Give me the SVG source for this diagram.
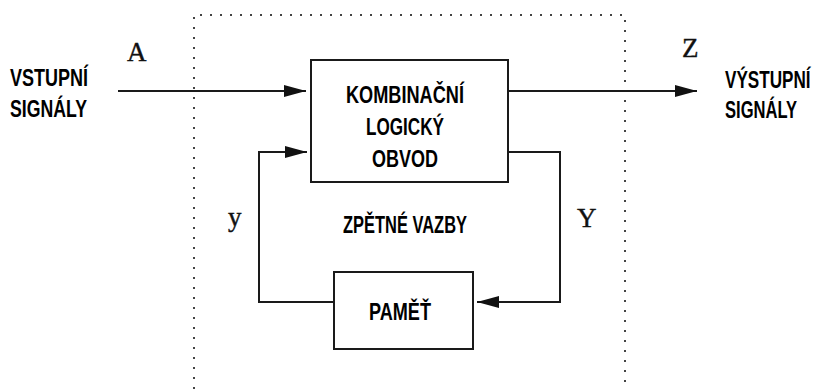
<svg xmlns="http://www.w3.org/2000/svg" width="815" height="389" viewBox="0 0 815 389">
  <style>
    .box { fill: #fff; stroke: #1a1a1a; stroke-width: 2; }
    .wire { fill: none; stroke: #1a1a1a; stroke-width: 2; }
    .frame { fill: none; stroke: #444; stroke-width: 2; stroke-dasharray: 2 8; }
    .lbl { font-family: "Liberation Sans", Arial, sans-serif; font-weight: bold; font-size: 23px; fill: #000; }
    .sym { font-family: "Liberation Serif", "Times New Roman", serif; font-size: 27px; fill: #111; stroke: #111; stroke-width: 0.4; }
  </style>
  <defs>
    <marker id="arrow" markerUnits="userSpaceOnUse" markerWidth="24" markerHeight="14" refX="22" refY="7" orient="auto">
      <path d="M0,1 L22,7 L0,13 Z" fill="#111"/>
    </marker>
  </defs>

  <rect width="815" height="389" fill="#fff"/>

  <!-- dotted system boundary, open at the bottom -->
  <path class="frame" d="M194,389 L194,15 L625,15 L625,389"/>

  <g id="connectors">
    <line class="wire" x1="118" y1="91" x2="306" y2="91" marker-end="url(#arrow)"/>
    <line class="wire" x1="508" y1="91" x2="697" y2="91" marker-end="url(#arrow)"/>
    <polyline class="wire" points="508,152 560,152 560,302 477,302" marker-end="url(#arrow)"/>
    <polyline class="wire" points="334,302 259,302 259,152 307,152" marker-end="url(#arrow)"/>
  </g>

  <g id="input-label">
    <text class="lbl" x="10" y="86" textLength="78" lengthAdjust="spacingAndGlyphs">VSTUPNÍ</text>
    <text class="lbl" x="10" y="117" textLength="77" lengthAdjust="spacingAndGlyphs">SIGNÁLY</text>
  </g>

  <!-- condensed horizontally so the label fits the right margin -->
  <g id="output-label" transform="translate(725,0) scale(0.75,1)">
    <text class="lbl" x="0" y="88" textLength="114" lengthAdjust="spacingAndGlyphs">VÝSTUPNÍ</text>
    <text class="lbl" x="0" y="118" textLength="96" lengthAdjust="spacingAndGlyphs">SIGNÁLY</text>
  </g>

  <g id="combinational">
    <rect class="box" x="311" y="60" width="197" height="122"/>
    <text class="lbl" x="405" y="103" text-anchor="middle" textLength="118" lengthAdjust="spacingAndGlyphs">KOMBINAČNÍ</text>
    <text class="lbl" x="405" y="135" text-anchor="middle" textLength="78" lengthAdjust="spacingAndGlyphs">LOGICKÝ</text>
    <text class="lbl" x="405" y="167" text-anchor="middle" textLength="66" lengthAdjust="spacingAndGlyphs">OBVOD</text>
  </g>

  <g id="memory">
    <rect class="box" x="334" y="272" width="139" height="77"/>
    <text class="lbl" x="400" y="320" text-anchor="middle" textLength="62" lengthAdjust="spacingAndGlyphs">PAMĚŤ</text>
  </g>

  <g id="feedback-label">
    <text class="lbl" x="405" y="233" text-anchor="middle" textLength="124" lengthAdjust="spacingAndGlyphs">ZPĚTNÉ VAZBY</text>
  </g>

  <g id="symbols">
    <text class="sym" x="127" y="61">A</text>
    <text class="sym" x="682" y="57">Z</text>
    <text class="sym" x="228" y="226">y</text>
    <text class="sym" x="577" y="227">Y</text>
  </g>
</svg>
